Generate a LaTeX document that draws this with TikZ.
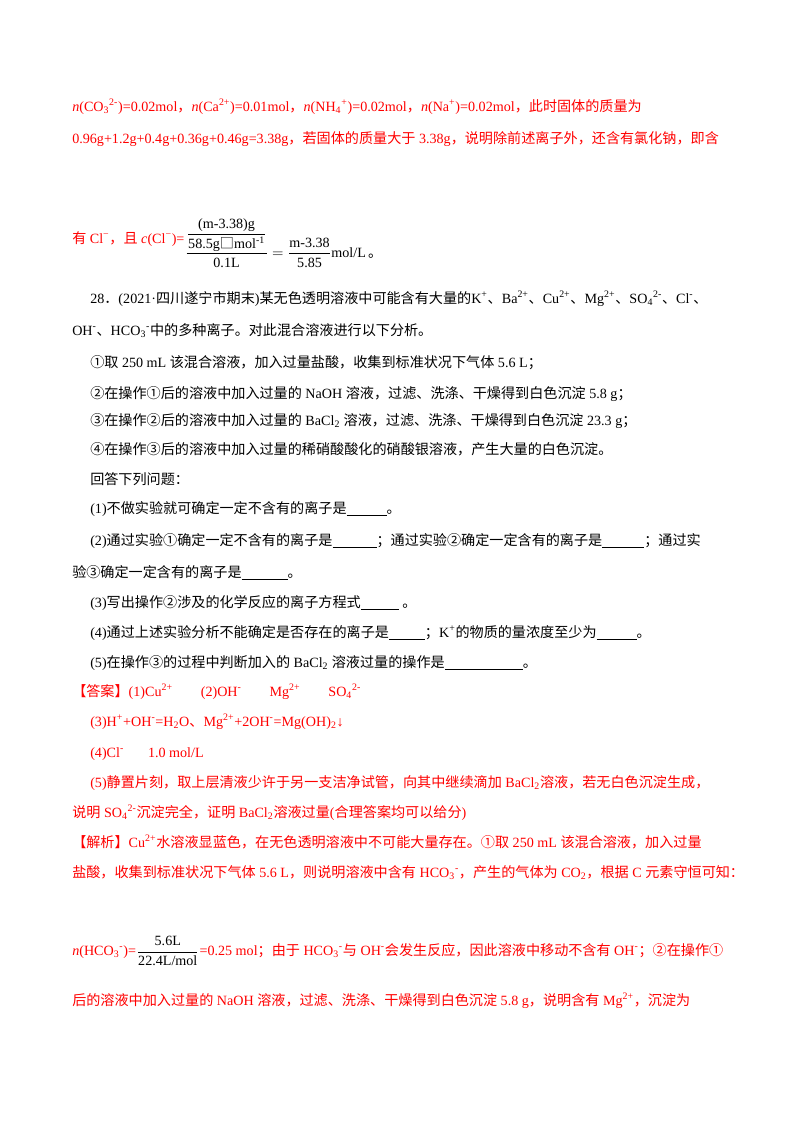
\documentclass[tikz,border=0pt]{standalone}
\usepackage{fontspec}
\usepackage{amsmath}
\setmainfont{Liberation Serif}
\newfontfamily\cjk{Noto Sans CJK SC}
\XeTeXinterchartokenstate=1
\newXeTeXintercharclass\cjkcls
\newcount\cc
\def\setcls#1#2{\cc=#1\relax\loop\XeTeXcharclass\cc=\cjkcls\ifnum\cc<#2\advance\cc1\repeat}
\setcls{"4E00}{"9FFF}
\setcls{"3000}{"303F}
\setcls{"FF00}{"FFEF}
\setcls{"2460}{"2473}
\setcls{"25A1}{"25A1}
\XeTeXinterchartoks 0 \cjkcls = {\begingroup\cjk}
\XeTeXinterchartoks 4095 \cjkcls = {\begingroup\cjk}
\XeTeXinterchartoks \cjkcls 0 = {\endgroup}
\XeTeXinterchartoks \cjkcls 4095 = {\endgroup}
\definecolor{ared}{RGB}{255,0,0}
\newdimen\pxu \pxu=0.744pt
\newcommand{\up}[1]{\textsuperscript{#1}}
\newcommand{\dn}[1]{\textsubscript{#1}}
\newcommand{\blank}[1]{\underline{\hspace*{#1\pxu}}}
\newcommand{\gap}[1]{\hspace*{#1\pxu}}
\begin{document}
\begin{tikzpicture}[x=0.744pt,y=-0.744pt,
  every node/.style={inner sep=0pt,anchor=base west,font=\fontsize{10.5}{12}\selectfont},
  r/.style={text=ared}]
\useasboundingbox (0,0) rectangle (800,1132);
\node[r] (l1) at (72,111) {\textit{n}(CO\dn{3}\up{2-})=0.02mol，\textit{n}(Ca\up{2+})=0.01mol，\textit{n}(NH\dn{4}\up{+})=0.02mol，\textit{n}(Na\up{+})=0.02mol，此时固体的质量为};
\node[r] (l2) at (72,143) {0.96g+1.2g+0.4g+0.36g+0.46g=3.38g，若固体的质量大于 3.38g，说明除前述离子外，还含有氯化钠，即含};
\node[r] (l3) at (72,243) {有 Cl\up{−}，且 \textit{c}(Cl\up{−})=};
\node[anchor=west] (f1) at (l3.base east) {$\dfrac{\dfrac{\text{(m-3.38)g}}{\text{58.5g□mol\up{-1}}}}{\text{0.1L}}=\dfrac{\text{m-3.38}}{\text{5.85}}\text{mol/L}$\,。};
\node (q0) at (90,303) {28．(2021·四川遂宁市期末)某无色透明溶液中可能含有大量的K\up{+}、Ba\up{2+}、Cu\up{2+}、Mg\up{2+}、SO\dn{4}\up{2-}、Cl\up{-}、};
\node (q1) at (72,335) {OH\up{-}、HCO\dn{3}\up{-}中的多种离子。对此混合溶液进行以下分析。};
\node (s1) at (90,367) {①取 250 mL 该混合溶液，加入过量盐酸，收集到标准状况下气体 5.6 L；};
\node (s2) at (90,398) {②在操作①后的溶液中加入过量的 NaOH 溶液，过滤、洗涤、干燥得到白色沉淀 5.8 g；};
\node (s3) at (90,425) {③在操作②后的溶液中加入过量的 BaCl\dn{2} 溶液，过滤、洗涤、干燥得到白色沉淀 23.3 g；};
\node (s4) at (90,454) {④在操作③后的溶液中加入过量的稀硝酸酸化的硝酸银溶液，产生大量的白色沉淀。};
\node (h) at (90,484) {回答下列问题：};
\node (p1) at (90,513) {(1)不做实验就可确定一定不含有的离子是\blank{40}。};
\node (p2) at (90,545) {(2)通过实验①确定一定不含有的离子是\blank{44}；通过实验②确定一定含有的离子是\blank{42}；通过实};
\node (p2b) at (72,577) {验③确定一定含有的离子是\blank{46}。};
\node (p3) at (90,607) {(3)写出操作②涉及的化学反应的离子方程式\blank{38}\ 。};
\node (p4) at (90,637) {(4)通过上述实验分析不能确定是否存在的离子是\blank{36}；K\up{+}的物质的量浓度至少为\blank{40}。};
\node (p5) at (90,667) {(5)在操作③的过程中判断加入的 BaCl\dn{2} 溶液过量的操作是\blank{78}。};
\node[r] (a1) at (72,696) {【答案】(1)Cu\up{2+}\gap{28}(2)OH\up{-}\gap{28}Mg\up{2+}\gap{28}SO\dn{4}\up{2-}};
\node[r] (a3) at (90,726) {(3)H\up{+}+OH\up{-}=H\dn{2}O、Mg\up{2+}+2OH\up{-}=Mg(OH)\dn{2}↓};
\node[r] (a4) at (90,757) {(4)Cl\up{-}\gap{24}1.0 mol/L};
\node[r] (a5) at (90,787) {(5)静置片刻，取上层清液少许于另一支洁净试管，向其中继续滴加 BaCl\dn{2}溶液，若无白色沉淀生成，};
\node[r] (a5b) at (72,817) {说明 SO\dn{4}\up{2-}沉淀完全，证明 BaCl\dn{2}溶液过量(合理答案均可以给分)};
\node[r] (j1) at (72,847) {【解析】Cu\up{2+}水溶液显蓝色，在无色透明溶液中不可能大量存在。①取 250 mL 该混合溶液，加入过量};
\node[r] (j2) at (72,877) {盐酸，收集到标准状况下气体 5.6 L，则说明溶液中含有 HCO\dn{3}\up{-}，产生的气体为 CO\dn{2}，根据 C 元素守恒可知：};
\node[r] (j3) at (72,955) {\textit{n}(HCO\dn{3}\up{-})=};
\node[anchor=base west] (f2) at (j3.base east) {\raisebox{-0.1ex}{$\dfrac{\text{5.6L}}{\text{22.4L/mol}}$}};
\node[r] (j3b) at (f2.base east) {=0.25 mol；由于 HCO\dn{3}\up{-}与 OH\up{-}会发生反应，因此溶液中移动不含有 OH\up{-}；②在操作①};
\node[r] (j4) at (72,1005) {后的溶液中加入过量的 NaOH 溶液，过滤、洗涤、干燥得到白色沉淀 5.8 g，说明含有 Mg\up{2+}，沉淀为};
\end{tikzpicture}
\end{document}
